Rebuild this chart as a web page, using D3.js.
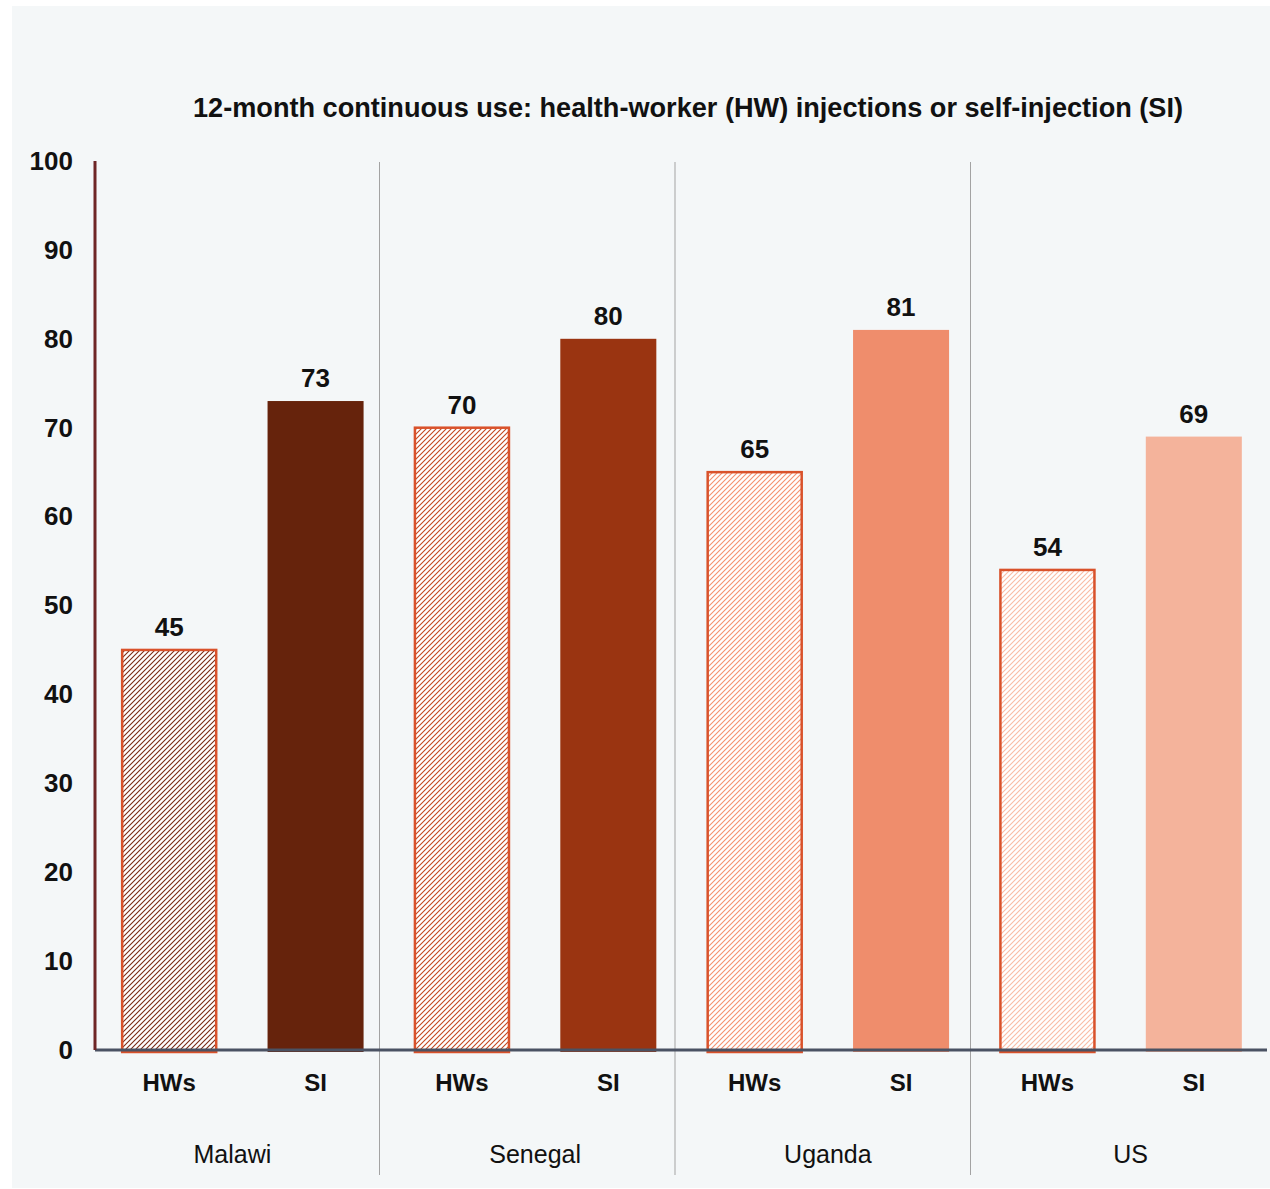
<!DOCTYPE html>
<html><head><meta charset="utf-8">
<script src="https://cdn.jsdelivr.net/npm/d3@7"></script>
<style>body{margin:0;background:#fff}svg{display:block}</style>
</head><body>
<script>
const title = "12-month continuous use: health-worker (HW) injections or self-injection (SI)";
const countries = ["Malawi", "Senegal", "Uganda", "US"];
const methods = ["HWs", "SI"];
const hwValues = [45, 70, 65, 54];
const siValues = [73, 80, 81, 69];
const yTicks = [0, 10, 20, 30, 40, 50, 60, 70, 80, 90, 100];
const siColors = ["#66230c", "#9a3411", "#ef8d6c", "#f4b39b"];
const hatchColors = ["#7a2a14", "#c4471f", "#f5916f", "#f9bca6"];

const W = 1270, H = 1189;
const svg = d3.select("body").append("svg").attr("width", W).attr("height", H);

svg.append("rect").attr("x", 12).attr("y", 6).attr("width", W - 12).attr("height", 1182).attr("fill", "#f4f7f8");

const defs = svg.append("defs");
hatchColors.forEach((c, i) => {
  const p = defs.append("pattern").attr("id", "hatch" + i).attr("patternUnits", "userSpaceOnUse")
    .attr("width", 5).attr("height", 5);
  p.append("rect").attr("width", 5).attr("height", 5).attr("fill", "#ffffff");
  p.append("path").attr("d", "M-1,1 l2,-2 M0,5 l5,-5 M4,6 l2,-2")
    .attr("stroke", c).attr("stroke-width", 1.1);
});

const rows = [];
countries.forEach((c, i) => {
  rows.push({country: c, method: methods[0], value: hwValues[i], idx: i, key: c + "|" + methods[0]});
  rows.push({country: c, method: methods[1], value: siValues[i], idx: i, key: c + "|" + methods[1]});
});

const x = d3.scaleBand().domain(rows.map(d => d.key)).range([96, 1267]).paddingInner(0.344).paddingOuter(0.172);
const y = d3.scaleLinear().domain([0, 100]).range([1050, 161]);
const g = d3.scaleBand().domain(countries).range([84, 1266]);

// separators
svg.selectAll(".sep").data(countries.slice(1)).enter().append("line")
  .attr("x1", d => g(d)).attr("x2", d => g(d))
  .attr("y1", y(100) + 1).attr("y2", 1175)
  .attr("stroke", "#a3a3a3").attr("stroke-width", 1);

// title
svg.append("text").attr("x", 688).attr("y", 117).attr("text-anchor", "middle")
  .attr("font-family", "Liberation Sans, Arial, sans-serif").attr("font-weight", "bold")
  .attr("font-size", 28).attr("textLength", 990).attr("lengthAdjust", "spacingAndGlyphs")
  .attr("fill", "#111").text(title);

// y axis
const yAxis = svg.append("g").attr("transform", "translate(95,0)")
  .call(d3.axisLeft(y).tickValues(yTicks).tickSize(0).tickPadding(22));
yAxis.select(".domain").remove();
yAxis.selectAll("text").attr("font-family", "Liberation Sans, Arial, sans-serif")
  .attr("font-weight", "bold").attr("font-size", 26).attr("fill", "#111");

// bars
svg.selectAll(".bar").data(rows).enter().append("rect")
  .attr("x", d => d.method === "SI" ? x(d.key) : x(d.key) + 1)
  .attr("y", d => y(d.value))
  .attr("width", d => d.method === "SI" ? x.bandwidth() : x.bandwidth() - 2)
  .attr("height", d => y(0) - y(d.value) + 2)
  .attr("fill", d => d.method === "SI" ? siColors[d.idx] : `url(#hatch${d.idx})`)
  .attr("stroke", d => d.method === "SI" ? "none" : "#d9522b")
  .attr("stroke-width", 2.5);

// baseline
svg.append("line").attr("x1", 95).attr("x2", 1267).attr("y1", y(0)).attr("y2", y(0))
  .attr("stroke", "#4a5263").attr("stroke-width", 3);
// y axis line
svg.append("line").attr("x1", 95).attr("x2", 95).attr("y1", y(100)).attr("y2", y(0))
  .attr("stroke", "#6e2626").attr("stroke-width", 3);

// value labels
svg.selectAll(".val").data(rows).enter().append("text")
  .attr("x", d => x(d.key) + x.bandwidth() / 2).attr("y", d => y(d.value) - 14)
  .attr("text-anchor", "middle").attr("font-family", "Liberation Sans, Arial, sans-serif")
  .attr("font-weight", "bold").attr("font-size", 26).attr("fill", "#111").text(d => d.value);

// method labels
svg.selectAll(".cat").data(rows).enter().append("text")
  .attr("x", d => x(d.key) + x.bandwidth() / 2).attr("y", 1091)
  .attr("text-anchor", "middle").attr("font-family", "Liberation Sans, Arial, sans-serif")
  .attr("font-weight", "bold").attr("font-size", 24).attr("fill", "#111").text(d => d.method);

// country labels
svg.selectAll(".cty").data(countries).enter().append("text")
  .attr("x", (d, i) => (x(d + "|HWs") + x(d + "|SI") + x.bandwidth()) / 2 + [-10, 0, 0, 10][i])
  .attr("y", 1163).attr("text-anchor", "middle")
  .attr("font-family", "Liberation Sans, Arial, sans-serif").attr("font-size", 25)
  .attr("fill", "#111").text(d => d);
</script>
</body></html>
